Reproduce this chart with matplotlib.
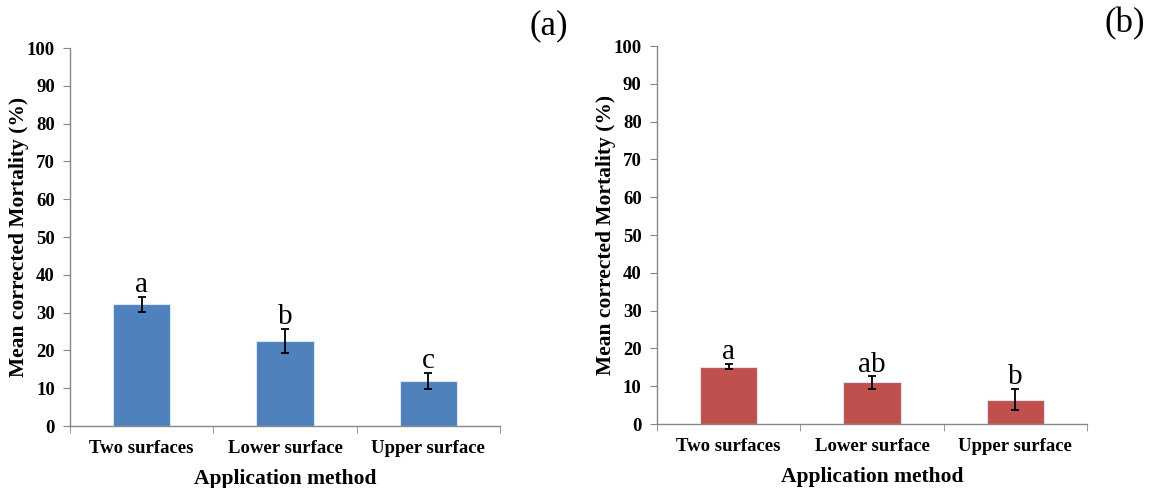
import matplotlib.pyplot as plt
import numpy as np

plt.rcParams['font.family'] = ['Liberation Serif', 'DejaVu Serif']

methods = ["Two surfaces", "Lower surface", "Upper surface"]

mortality_a = [32.2, 22.5, 11.9]
error_a = [2.0, 3.2, 2.1]
letters_a = ["a", "b", "c"]

mortality_b = [15.2, 11.0, 6.4]
error_b = [0.7, 1.6, 2.8]
letters_b = ["a", "ab", "b"]

axis_grey = "#868686"


def draw_panel(ax, values, errors, letters, color, tag, tag_x):
    x = np.arange(len(methods))
    ax.bar(x, values, width=0.4, color=color, edgecolor="#dce6f2", linewidth=0.8,
           yerr=errors, capsize=3, error_kw=dict(ecolor="black", elinewidth=1.3, capthick=1.3))
    for xi, v, e, lab in zip(x, values, errors, letters):
        ax.text(xi, v + e - 0.3, lab, ha="center", va="bottom", fontsize=21)

    ax.set_xlim(-0.5, len(methods) - 0.5)
    ax.set_ylim(0, 100)
    ax.set_yticks(range(0, 101, 10))
    ax.set_xticks(x)
    ax.set_xticklabels(methods, fontsize=13.5, fontweight="bold")
    ax.set_xticks(np.arange(-0.5, len(methods)), minor=True)
    ax.tick_params(axis="x", which="major", length=0, pad=10)
    ax.tick_params(axis="x", which="minor", length=5, color=axis_grey, direction="out")
    ax.tick_params(axis="y", length=5, color=axis_grey, labelsize=13.5, pad=6)
    for lab in ax.get_yticklabels():
        lab.set_fontweight("bold")

    for side in ("top", "right"):
        ax.spines[side].set_visible(False)
    for side in ("left", "bottom"):
        ax.spines[side].set_color(axis_grey)
        ax.spines[side].set_linewidth(1.0)

    ax.set_xlabel("Application method", fontsize=15.5, fontweight="bold", labelpad=9)
    ax.set_ylabel("Mean corrected Mortality (%)", fontsize=15.5, fontweight="bold", labelpad=-2)
    ax.text(tag_x, 1.016, tag, transform=ax.transAxes, ha="right", va="bottom", fontsize=25)


fig = plt.figure(figsize=(11.54, 4.88), dpi=100)
ax1 = fig.add_axes([0.0607, 0.127, 0.3726, 0.7746])
ax2 = fig.add_axes([0.5693, 0.131, 0.3726, 0.7746])

draw_panel(ax1, mortality_a, error_a, letters_a, "#4f81bd", "(a)", 1.158)
draw_panel(ax2, mortality_b, error_b, letters_b, "#c0504d", "(b)", 1.135)

fig.savefig("out.png", dpi=100)
